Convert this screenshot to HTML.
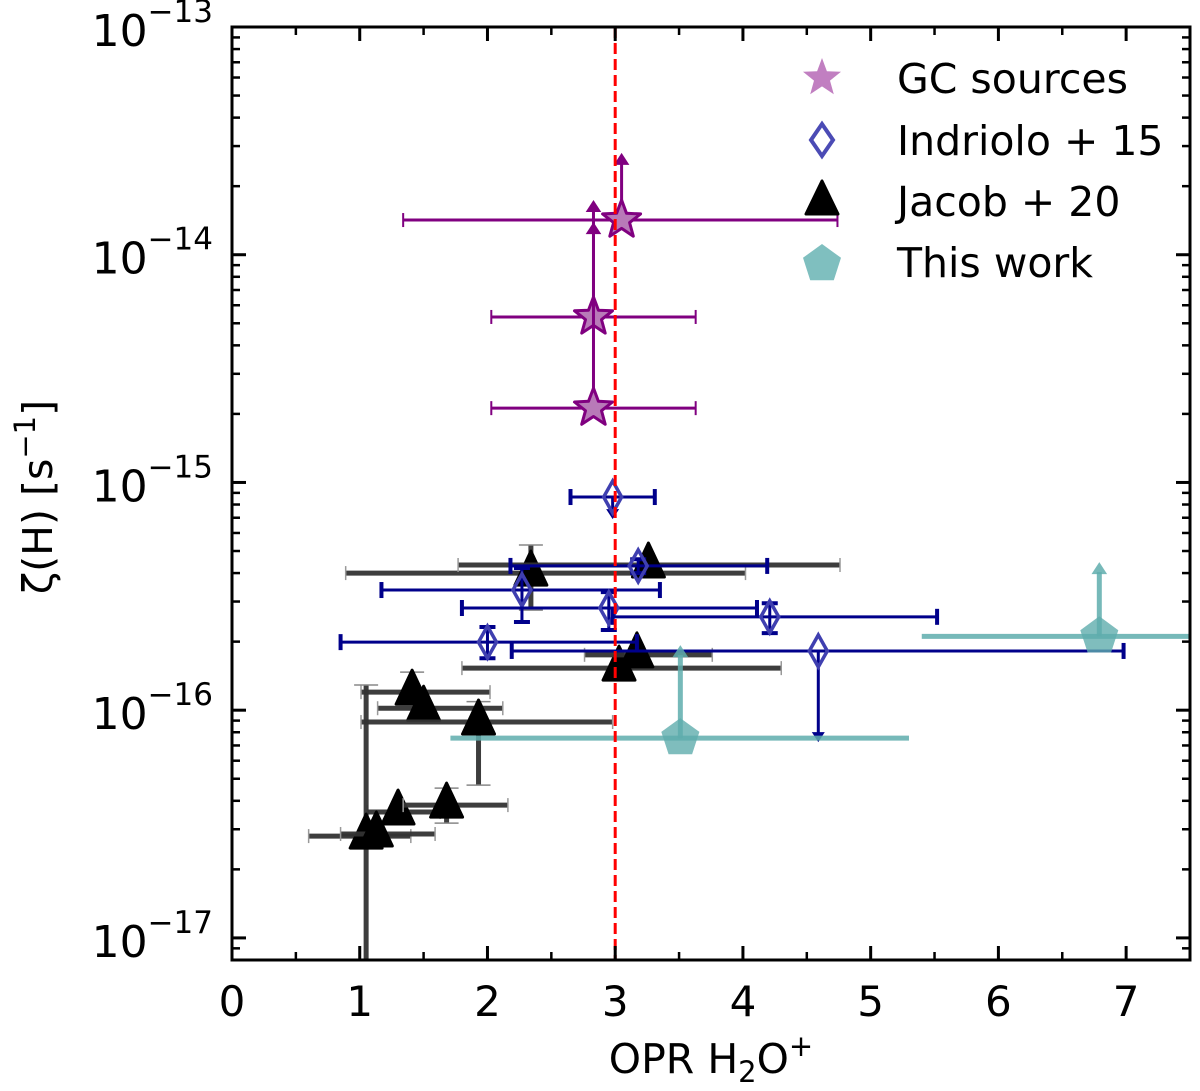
<!DOCTYPE html>
<html><head><meta charset="utf-8"><style>
body{margin:0;background:#fff}
svg{display:block;font-family:"DejaVu Sans","Liberation Sans",sans-serif}
</style></head><body>
<svg id="chart" width="1200" height="1091" viewBox="0 0 1200 1091"></svg>
<script>
// ---- data ----
const gcX=[3.05,2.83,2.83];
const gcY=[1.42e-14,5.33e-15,2.12e-15];
const gcXlo=[1.34,2.03,2.03];
const gcXhi=[4.74,3.63,3.63];
const gcArrowTo=[2.8e-14,1.74e-14,1.39e-14];

const inX=[2.98,3.18,2.27,2.95,4.21,2.00,4.59];
const inY=[8.63e-16,4.30e-16,3.37e-16,2.81e-16,2.57e-16,1.99e-16,1.82e-16];
const inXlo=[2.65,2.18,1.17,1.80,2.98,0.85,2.19];
const inXhi=[3.31,4.19,3.35,4.11,5.52,3.17,6.98];
const inYlo=[7.19e-16,4.0e-16,2.44e-16,2.25e-16,2.18e-16,1.69e-16,7.54e-17];
const inYhi=[8.63e-16,4.6e-16,4.21e-16,3.30e-16,2.95e-16,2.32e-16,1.82e-16];
const inDown=[true,false,false,false,false,false,true];

const jX=[1.41,1.50,1.93,1.30,1.68,1.05,1.13,2.34,3.26,3.03,3.17];
const jY=[1.20e-16,1.02e-16,8.87e-17,3.57e-17,3.83e-17,2.80e-17,2.86e-17,4.00e-16,4.34e-16,1.53e-16,1.75e-16];
const jXlo=[1.01,1.14,1.01,1.06,1.34,0.60,0.85,0.89,1.77,1.80,2.76];
const jXhi=[2.02,2.12,2.98,1.63,2.16,1.40,1.59,4.02,4.76,4.30,3.76];
const jYlo=[1.20e-16,1.02e-16,4.69e-17,3.4e-17,3.19e-17,5e-18,2.86e-17,2.75e-16,4.34e-16,1.53e-16,1.75e-16];
const jYhi=[1.47e-16,1.02e-16,1.09e-16,3.57e-17,4.55e-17,1.29e-16,2.86e-17,5.31e-16,4.34e-16,1.53e-16,1.75e-16];

const twX=[3.51,6.79];
const twY=[7.54e-17,2.11e-16];
const twXlo=[1.71,5.40];
const twXhi=[5.30,7.70];
const twArrowTo=[1.93e-16,4.47e-16];

const xTicks=[0,1,2,3,4,5,6,7];
const yExps=[-13,-14,-15,-16,-17];

// ---- scales ----
const L=232,R=1190,T=27,B=960;
const xmin=0,xmax=7.5;
const ytop=-13,ybot=-17.097;
const sx=v=>L+(v-xmin)/(xmax-xmin)*(R-L);
const sy=v=>T+(ytop-Math.log10(v))/(ytop-ybot)*(B-T);
const NS='http://www.w3.org/2000/svg';
const svg=document.getElementById('chart');
function mk(tag,attrs,parent){const e=document.createElementNS(NS,tag);for(const k in attrs)e.setAttribute(k,attrs[k]);(parent||svg).appendChild(e);return e;}

const defs=mk('defs',{});
const cp=mk('clipPath',{id:'cp'},defs);mk('rect',{x:L,y:T,width:R-L,height:B-T},cp);
const plot=mk('g',{'clip-path':'url(#cp)'});



function line(x1,y1,x2,y2,c,w,g,op){return mk('line',{x1,y1,x2,y2,stroke:c,'stroke-width':w,opacity:op||1},g);}
function arrowHead(x,y,dir,c,s,g){
  return mk('polygon',{points:`${x-s*0.65},${y-dir*s} ${x+s*0.65},${y-dir*s} ${x},${y}`,fill:c},g);
}
function star(cx,cy,r,g){let p=[];for(let i=0;i<10;i++){const a=-Math.PI/2+i*Math.PI/5;const rr=i%2?r*0.42:r;p.push((cx+rr*Math.cos(a)).toFixed(1)+','+(cy+rr*Math.sin(a)).toFixed(1));}return mk('polygon',{points:p.join(' ')},g);}
function pent(cx,cy,r,g){let p=[];for(let i=0;i<5;i++){const a=-Math.PI/2+i*2*Math.PI/5;p.push((cx+r*Math.cos(a)).toFixed(1)+','+(cy+r*Math.sin(a)).toFixed(1));}return mk('polygon',{points:p.join(' ')},g);}

// Jacob+20
const gJ=mk('g',{},plot);
jX.forEach((x,i)=>{
  const g=mk('g',{},gJ);
  
  
  const px=sx(x),py=sy(jY[i]);
  line(sx(jXlo[i]),py,sx(jXhi[i]),py,'#333',5,g,0.95);
  line(sx(jXlo[i]),py-7,sx(jXlo[i]),py+7,'#999',1.5,g);line(sx(jXhi[i]),py-7,sx(jXhi[i]),py+7,'#999',1.5,g);
  if(jYhi[i]!==jYlo[i]){line(px,sy(jYlo[i]),px,sy(jYhi[i]),'#333',5,g,0.95);
    line(px-12,sy(jYhi[i]),px+12,sy(jYhi[i]),'#888',1.5,g);line(px-12,sy(jYlo[i]),px+12,sy(jYlo[i]),'#888',1.5,g);}
  mk('polygon',{points:`${px},${py-22} ${px-16},${py+12} ${px+16},${py+12}`,fill:'#000',stroke:'#000','stroke-width':3,'stroke-linejoin':'round'},g);
});

// Indriolo+15
const gI=mk('g',{},plot);
inX.forEach((x,i)=>{
  const g=mk('g',{},gI);
  
  
  const px=sx(x),py=sy(inY[i]),c='#00008b';
  line(sx(inXlo[i]),py,sx(inXhi[i]),py,c,3,g);
  line(sx(inXlo[i]),py-8,sx(inXlo[i]),py+8,c,4,g);line(sx(inXhi[i]),py-8,sx(inXhi[i]),py+8,c,4,g);
  line(px,sy(inYlo[i]),px,sy(inYhi[i]),c,3,g);
  if(inDown[i]){arrowHead(px,sy(inYlo[i])+4,1,c,10,g);}
  else{line(px-8,sy(inYlo[i]),px+8,sy(inYlo[i]),c,4,g);line(px-8,sy(inYhi[i]),px+8,sy(inYhi[i]),c,4,g);}
  mk('polygon',{points:`${px},${py-16} ${px+9},${py} ${px},${py+16} ${px-9},${py}`,fill:'none',stroke:'#3f3fb0','stroke-width':3.5},g);
});

// This work
const gT=mk('g',{},plot);
twX.forEach((x,i)=>{
  const g=mk('g',{},gT);
  
  
  const px=sx(x),py=sy(twY[i]),c='#5fadad';
  line(sx(twXlo[i]),py,sx(twXhi[i]),py,c,5,g,0.85);
  line(px,py,px,sy(twArrowTo[i])+10,c,5,g,0.85);
  arrowHead(px,sy(twArrowTo[i]),-1,c,12,g).setAttribute('opacity',0.85);
  pent(px,py,20,g).setAttribute('fill','rgba(95,173,173,0.8)');
});

// GC sources
const gG=mk('g',{},plot);
gcX.forEach((x,i)=>{
  const g=mk('g',{},gG);
  
  
  const px=sx(x),py=sy(gcY[i]),c='#800080';
  line(sx(gcXlo[i]),py,sx(gcXhi[i]),py,c,3,g);
  line(sx(gcXlo[i]),py-7,sx(gcXlo[i]),py+7,c,2,g);line(sx(gcXhi[i]),py-7,sx(gcXhi[i]),py+7,c,2,g);
  line(px,py,px,sy(gcArrowTo[i])+8,c,3,g);
  arrowHead(px,sy(gcArrowTo[i]),-1,c,12,g);
  const s=star(px,py,20,g);s.setAttribute('fill','#b87ab8');s.setAttribute('stroke',c);s.setAttribute('stroke-width',3);s.setAttribute('stroke-linejoin','round');
});

// vertical dashed
const vl=line(sx(3),T,sx(3),B,'#ff0000',3,plot);vl.setAttribute('stroke-dasharray','11 5');


// axes frame + ticks
const ax=mk('g',{});
mk('rect',{x:L,y:T,width:R-L,height:B-T,fill:'none',stroke:'#000','stroke-width':3},ax);
xTicks.forEach(v=>{const x=sx(v);line(x,B,x,B-14,'#000',3,ax);line(x,T,x,T+14,'#000',3,ax);
  const t=mk('text',{x,y:B+56,'font-size':42,'text-anchor':'middle',fill:'#000'},ax);t.textContent=v;
  
  if(v+0.5<=xmax){const xm=sx(v+0.5);line(xm,B,xm,B-8,'#000',2.5,ax);line(xm,T,xm,T+8,'#000',2.5,ax);}
});
yExps.forEach(e=>{const y=sy(Math.pow(10,e));line(L,y,L+14,y,'#000',3,ax);line(R,y,R-14,y,'#000',3,ax);
  const t=mk('text',{x:213,y:y+19,'font-size':44,'text-anchor':'end',fill:'#000'},ax);
  
  const a=mk('tspan',{},t);a.textContent='10';const b=mk('tspan',{dy:-24,'font-size':31},t);b.textContent='\u2212'+Math.abs(e);
  for(let m=2;m<=9;m++){const v=m*Math.pow(10,e-1);if(Math.log10(v)<ybot)continue;const ym=sy(v);line(L,ym,L+8,ym,'#000',2.5,ax);line(R,ym,R-8,ym,'#000',2.5,ax);}
});
let xt=mk('text',{x:711,y:1073,'font-size':41,'text-anchor':'middle'},ax);

xt.innerHTML='OPR H<tspan font-size="29" dy="9">2</tspan><tspan dy="-9">O</tspan><tspan font-size="29" dy="-17">+</tspan>';
let yt=mk('text',{x:52,y:497,'font-size':41,'text-anchor':'middle',transform:'rotate(-90 52 497)'},ax);

yt.innerHTML='ζ(H) [s<tspan font-size="29" dy="-17">−1</tspan><tspan dy="17">]</tspan>';

// legend
const lg=mk('g',{});
const labels=['GC sources','Indriolo + 15','Jacob + 20','This work'];
const ly=[78,140,201,262];
labels.forEach((s,i)=>{const g=mk('g',{},lg);
  
  
  const cx=822,cy=ly[i];
  if(i==0){star(cx,cy,20,g).setAttribute('fill','#c17fc1');}
  if(i==1){mk('polygon',{points:`${cx},${cy-16} ${cx+11},${cy} ${cx},${cy+16} ${cx-11},${cy}`,fill:'none',stroke:'#4b4bb5','stroke-width':4},g);}
  if(i==2){mk('polygon',{points:`${cx},${cy-20} ${cx-16},${cy+13} ${cx+16},${cy+13}`,fill:'#000',stroke:'#000','stroke-width':3,'stroke-linejoin':'round'},g);}
  if(i==3){pent(cx,cy+2,20,g).setAttribute('fill','#7fbfbf');}
  const t=mk('text',{x:897,y:cy+15,'font-size':41},g);t.textContent=s;
});
</script>
</body></html>
